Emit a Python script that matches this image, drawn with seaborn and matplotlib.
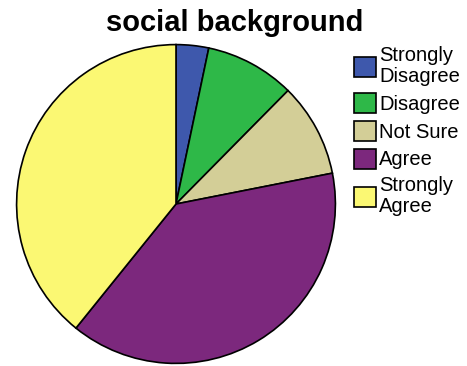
import matplotlib
matplotlib.use("Agg")
import matplotlib.pyplot as plt
import seaborn as sns

# === Data ===
categories = ["Strongly\nDisagree", "Disagree", "Not Sure", "Agree", "Strongly\nAgree"]
percentages = [3.3, 9.1, 9.5, 38.9, 39.2]
colors = ["#3E58AC", "#2EB848", "#D3CE97", "#7C287D", "#FBF873"]

# === Plot ===
sns.set_theme(style="white")
plt.rcParams["font.family"] = ["Liberation Sans", "DejaVu Sans"]

fig = plt.figure(figsize=(4.67, 3.66), dpi=100)
ax = fig.add_axes([15 / 467, 1 / 366, 322 / 467, 322 / 366])

wedges, _ = ax.pie(
    percentages,
    colors=colors,
    startangle=90,
    counterclock=False,
    wedgeprops=dict(edgecolor="black", linewidth=1.2),
)
ax.set_xlim(-1.01, 1.01)
ax.set_ylim(-1.01, 1.01)
ax.set_aspect("equal")
ax.axis("off")

fig.text(235 / 467, 1 - 23 / 366, "social background", ha="center", va="center",
         fontsize=21, fontweight="bold", color="black")

leg = fig.legend(
    wedges, categories,
    loc="upper left", bbox_to_anchor=(354 / 467, 1 - 46 / 366),
    frameon=False, fontsize=14.5, handlelength=1.1, handleheight=1.15,
    handletextpad=0.15, labelspacing=0.35, borderpad=0, borderaxespad=0,
    labelcolor="black",
)
for t in leg.get_texts():
    t.set_linespacing(1.12)
for h in leg.legend_handles:
    h.set_edgecolor("black")
    h.set_linewidth(1.2)

fig.savefig("out.png", dpi=100)
plt.close(fig)
